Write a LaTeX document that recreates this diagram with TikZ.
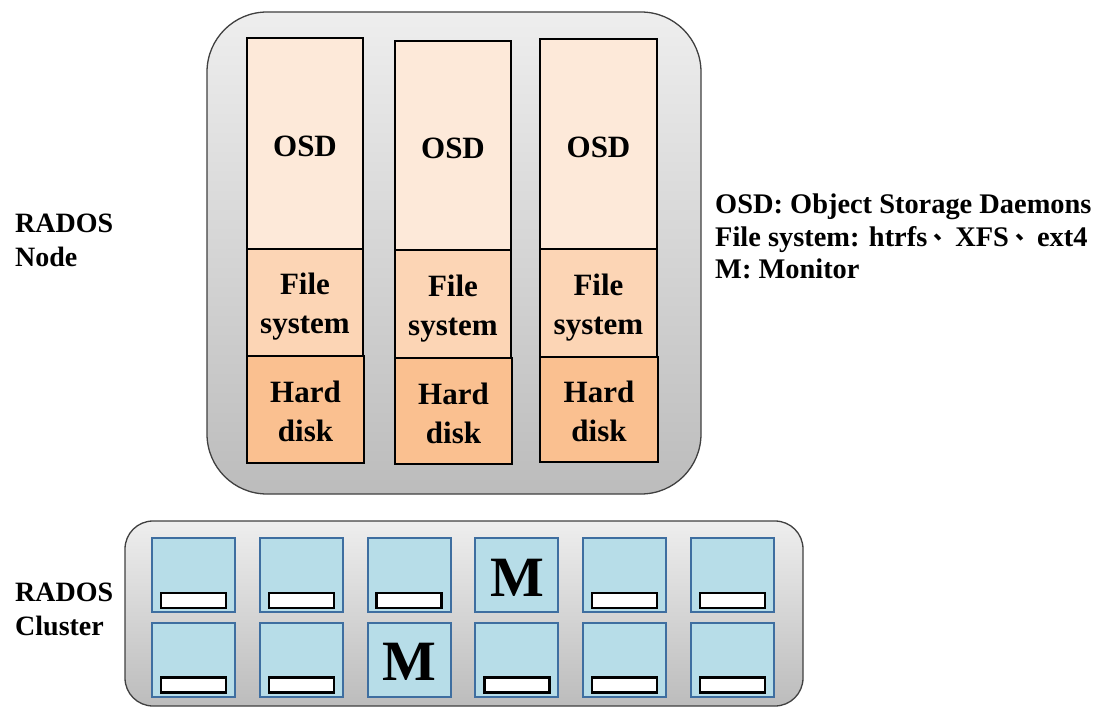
\documentclass[tikz,border=0pt]{standalone}
\usepackage{fontspec}
\setmainfont{Liberation Serif}
\newfontfamily\cjk{Noto Sans CJK SC}
\newcommand{\lift}[1]{\rule{0pt}{#1pt}}
\newcommand{\enumcomma}{\hspace{6pt}\raisebox{7pt}{\fontsize{22}{22}\selectfont\cjk 、}}
\begin{document}
\begin{tikzpicture}[x=1pt,y=-1pt,
  shell/.style={draw={rgb,255:red,64;green,64;blue,64},line width=1.3pt,
    top color={rgb,255:red,238;green,238;blue,238},
    bottom color={rgb,255:red,188;green,188;blue,188},inner sep=0pt},
  layer/.style={draw=black,line width=2.2pt,inner sep=0pt,align=center,
    font=\fontsize{31}{39}\selectfont\bfseries},
  osdbox/.style={layer,fill={rgb,255:red,253;green,233;blue,217}},
  fsbox/.style={layer,fill={rgb,255:red,252;green,213;blue,181}},
  hdbox/.style={layer,fill={rgb,255:red,250;green,192;blue,144}},
  unit/.style={draw={rgb,255:red,62;green,110;blue,160},line width=2pt,
    fill={rgb,255:red,183;green,221;blue,232},inner sep=0pt,
    minimum width=83pt,minimum height=74pt},
  monitor/.style={inner sep=0pt,font=\fontsize{57}{57}\selectfont\bfseries},
  slot/.style={draw=black,line width=2.4pt,fill=white,inner sep=0pt,
    minimum width=65pt,minimum height=15pt},
  label/.style={inner sep=0pt,align=left,anchor=west,
    font=\fontsize{28}{34}\selectfont\bfseries}]
\useasboundingbox (0,0) rectangle (1102,708);

% RADOS node: rounded shell with three OSD stacks
\node[shell,rounded corners=60pt,minimum width=494pt,minimum height=482pt] (node) at (454,253) {};
\foreach \i/\xl/\xr/\ya/\yb/\yc/\yd in {1/247/363/38/249/356/463,
                                         2/395/511/41/250/358/464,
                                         3/540/657/39/249/357/462}{
  \node[osdbox,minimum width={(\xr-\xl)*1pt},minimum height={(\yb-\ya)*1pt}]
    (osd\i) at ({(\xl+\xr)/2},{(\ya+\yb)/2}) {\lift{27}OSD};
  \node[fsbox,minimum width={(\xr-\xl)*1pt},minimum height={(\yc-\yb)*1pt}]
    (fs\i) at ({(\xl+\xr)/2},{(\yb+\yc)/2}) {\lift{30}File\\system};
  \node[hdbox,minimum width={(\xr-\xl+1)*1pt},minimum height={(\yd-\yc)*1pt}]
    (hd\i) at ({(\xl+\xr+1)/2},{(\yc+\yd)/2}) {\lift{26}Hard\\disk};
}

% RADOS cluster: two rows of six storage units, two of them monitors
\node[shell,rounded corners=28pt,minimum width=678pt,minimum height=185pt] (cluster) at (464,613.5) {};
\foreach \r/\yt in {1/538,2/622.5}{
  \foreach \c in {1,...,6}{
    \pgfmathsetmacro{\xl}{152+107.8*(\c-1)}
    \node[unit] (u\r\c) at ({\xl+41.5},{\yt+37}) {};
    \ifnum\r\c=14
      \node[monitor] (m\r\c) at ([yshift=-2.5pt]u\r\c.center) {M};
    \else\ifnum\r\c=23
      \node[monitor] (m\r\c) at ([yshift=-2.5pt]u\r\c.center) {M};
    \else
      \node[slot] (s\r\c) at ([yshift=12.5pt]u\r\c.south) {};
    \fi\fi
  }
}

% Labels and legend
\node[label] (lnode) at (15,240.5) {RADOS\\Node};
\node[label] (lcluster) at (15,609.5) {RADOS\\Cluster};
\node[label,font=\fontsize{28.4}{32.5}\selectfont\bfseries] (legend) at (715,236.5)
  {OSD: Object Storage Daemons\\
   File system: htrfs\enumcomma XFS\enumcomma ext4\\
   M: Monitor};
\end{tikzpicture}
\end{document}
